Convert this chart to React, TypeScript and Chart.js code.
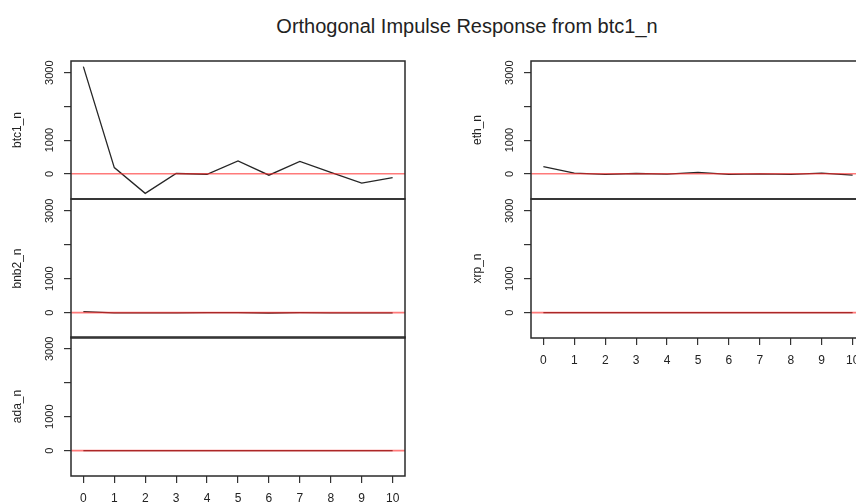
import React, { useEffect, useRef } from 'react';
import { Chart, registerables } from 'chart.js';

Chart.register(...registerables);

// ---------- data ----------
const TITLE = 'Orthogonal Impulse Response from btc1_n';
const STEPS = [0, 1, 2, 3, 4, 5, 6, 7, 8, 9, 10];
const BTC1_N = [3180, 185, -580, 10, -12, 380, -40, 370, 40, -277, -110];
const ETH_N = [215, 20, -15, 10, -10, 40, -15, 0, -15, 20, -40];
const BNB2_N = [30, -5, -5, -5, 0, 0, -10, 0, -5, -5, -5];
const ADA_N = [2, 0, 0, 0, 0, 0, 0, 0, 0, 0, 0];
const XRP_N = [1, 0, 0, 0, 0, 0, 0, 0, 0, 0, 0];
const ZERO_LINE = [0, 0];
const Y_TICKS = [0, 1000, 2000, 3000];
const Y_TICK_LABELS = ['0', '1000', '', '3000'];
const X_TICKS = [0, 1, 2, 3, 4, 5, 6, 7, 8, 9, 10];
const X_TICK_LABELS = ['0', '1', '2', '3', '4', '5', '6', '7', '8', '9', '10'];
const Y_MIN = -747;
const Y_MAX = 3347;
const X_MIN = -0.4;
const X_MAX = 10.4;

// ---------- layout ----------
const CW = 900;
const CH = 503;
const YW = 61; // fixed y-axis width
const XH = 30; // fixed x-axis height
const FONT = '"Liberation Sans", Arial, Helvetica, sans-serif';

const PANELS = [
  { name: 'btc1_n', values: BTC1_N, left: 71, right: 405, top: 61, bottom: 199, showX: false },
  { name: 'bnb2_n', values: BNB2_N, left: 71, right: 405, top: 199, bottom: 338, showX: false },
  { name: 'ada_n', values: ADA_N, left: 71, right: 405, top: 337, bottom: 476, showX: true },
  { name: 'eth_n', values: ETH_N, left: 531, right: 865, top: 61, bottom: 199, showX: false },
  { name: 'xrp_n', values: XRP_N, left: 531, right: 865, top: 199, bottom: 338, showX: true },
];

const framePlugin = {
  id: 'frameBox',
  afterDraw(chart: any) {
    const { ctx, chartArea: a } = chart;
    ctx.save();
    ctx.strokeStyle = '#2a2a2a';
    ctx.lineWidth = 1.5;
    ctx.strokeRect(a.left, a.top, a.right - a.left, a.bottom - a.top);
    ctx.restore();
  },
};

function Panel(p: any) {
  const ref = useRef<HTMLCanvasElement | null>(null);
  useEffect(() => {
    if (!ref.current) return;
    const chart = new Chart(ref.current, {
      type: 'line',
      data: {
        datasets: [
          {
            data: ZERO_LINE.map((v, i) => ({ x: i === 0 ? X_MIN : X_MAX, y: v })),
            borderColor: 'rgba(255,40,40,0.62)',
            borderWidth: 1.6,
            pointRadius: 0,
            order: 0,
          },
          {
            data: STEPS.map((s, i) => ({ x: s, y: p.values[i] })),
            borderColor: '#262626',
            borderWidth: 1.3,
            pointRadius: 0,
            tension: 0,
            order: 1,
          },
        ],
      },
      options: {
        responsive: false,
        animation: false,
        devicePixelRatio: 1,
        events: [],
        layout: {
          padding: {
            left: p.left - YW,
            top: p.top,
            right: CW - p.right,
            bottom: CH - p.bottom - (p.showX ? XH : 0),
          },
        },
        plugins: { legend: { display: false }, tooltip: { enabled: false }, title: { display: false } },
        scales: {
          x: {
            type: 'linear',
            min: X_MIN,
            max: X_MAX,
            display: p.showX,
            afterBuildTicks: (s: any) => {
              s.ticks = X_TICKS.map((v) => ({ value: v }));
            },
            afterFit: (s: any) => {
              s.height = p.showX ? XH : 0;
            },
            ticks: {
              autoSkip: false,
              maxRotation: 0,
              minRotation: 0,
              padding: 8,
              color: '#222',
              font: { family: FONT, size: 12 },
              callback: (v: any) => X_TICK_LABELS[X_TICKS.indexOf(Number(v))] ?? '',
            },
            grid: { drawOnChartArea: false, drawTicks: true, tickLength: 7, color: '#333', lineWidth: 1.2 },
            border: { display: false },
          },
          y: {
            type: 'linear',
            min: Y_MIN,
            max: Y_MAX,
            afterBuildTicks: (s: any) => {
              s.ticks = Y_TICKS.map((v) => ({ value: v }));
            },
            afterFit: (s: any) => {
              s.width = YW;
            },
            ticks: {
              autoSkip: false,
              minRotation: 90,
              maxRotation: 90,
              crossAlign: 'center',
              padding: 2,
              color: '#222',
              font: { family: FONT, size: 11 },
              callback: (v: any) => Y_TICK_LABELS[Y_TICKS.indexOf(Number(v))] ?? '',
            },
            title: {
              display: true,
              text: p.name,
              color: '#222',
              font: { family: FONT, size: 12 },
              padding: { top: 0, bottom: 0 },
            },
            grid: { drawOnChartArea: false, drawTicks: true, tickLength: 7, color: '#333', lineWidth: 1.2 },
            border: { display: false },
          },
        },
      },
      plugins: [framePlugin],
    } as any);
    return () => chart.destroy();
  }, []);
  return (
    <canvas
      ref={ref}
      width={CW}
      height={CH}
      style={{ position: 'absolute', left: 0, top: 0, width: CW, height: CH }}
    />
  );
}

export default function App() {
  return (
    <div
      style={{
        position: 'absolute',
        left: 0,
        top: 0,
        width: 856,
        height: 503,
        overflow: 'hidden',
        background: '#fff',
        fontFamily: FONT,
      }}
    >
      <div
        style={{
          position: 'absolute',
          left: 467 - 300,
          width: 600,
          top: 16,
          textAlign: 'center',
          fontSize: 20,
          lineHeight: '20px',
          color: '#222',
          whiteSpace: 'nowrap',
        }}
      >
        {TITLE}
      </div>
      {PANELS.map((p) => (
        <Panel key={p.name} {...p} />
      ))}
    </div>
  );
}
